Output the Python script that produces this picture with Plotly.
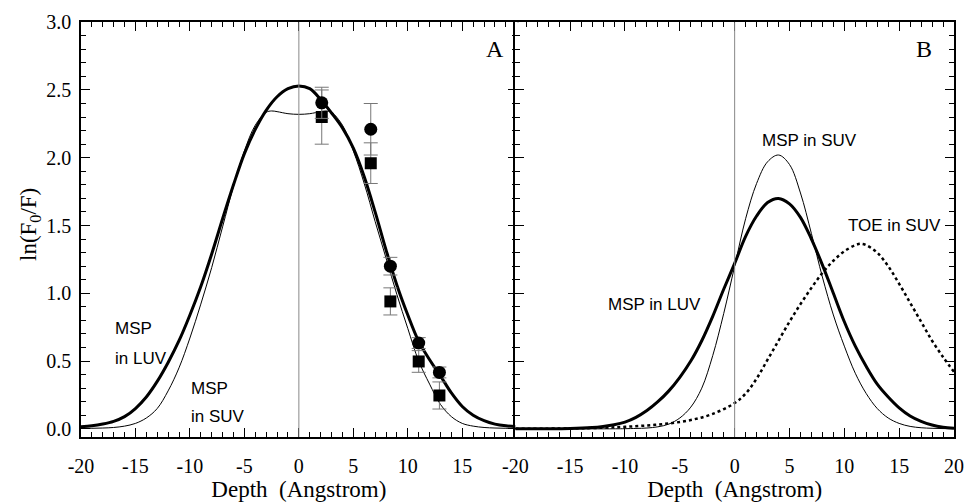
import plotly.graph_objects as go

# ---------------- Panel A data ----------------
a_luv_x = [-20, -19, -18, -17, -16, -15, -14, -13, -12, -11, -10, -9, -8, -7, -6, -5, -4, -3, -2, -1, 0,
           1, 2, 3, 4, 5, 6, 7, 8, 9, 10, 11, 12, 13, 14, 15, 16, 17, 18, 19, 20]
a_luv_y = [0.015, 0.022, 0.035, 0.055, 0.09, 0.15, 0.235, 0.35, 0.49, 0.65, 0.84, 1.05, 1.29, 1.55, 1.80, 2.03, 2.21, 2.35, 2.45, 2.51, 2.53,
           2.51, 2.43, 2.33, 2.22, 2.07, 1.86, 1.60, 1.32, 1.06, 0.84, 0.645, 0.51, 0.39, 0.265, 0.165, 0.10, 0.06, 0.035, 0.022, 0.015]

a_suv_x = [-20, -19, -18, -17, -16, -15, -14, -13, -12, -11, -10, -9, -8, -7, -6, -5, -4, -3, -2.5, -2, -1, 0,
           1, 2, 2.5, 3, 4, 5, 6, 7, 8, 9, 10, 11, 12, 13, 14, 15, 16, 17, 18, 19, 20]
a_suv_y = [0.003, 0.004, 0.006, 0.01, 0.02, 0.04, 0.08, 0.15, 0.28, 0.45, 0.67, 0.92, 1.19, 1.49, 1.79, 2.05, 2.24, 2.335, 2.345, 2.34, 2.325, 2.32,
           2.325, 2.34, 2.345, 2.335, 2.24, 2.05, 1.81, 1.53, 1.26, 0.99, 0.74, 0.50, 0.33, 0.18, 0.09, 0.04, 0.02, 0.01, 0.006, 0.004, 0.003]

pts_x = [2.1, 6.6, 8.4, 11.0, 12.9]
circle_y = [2.405, 2.21, 1.20, 0.633, 0.416]
circle_err = [0.115, 0.19, 0.065, 0.04, 0.04]
square_y = [2.30, 1.96, 0.94, 0.497, 0.246]
square_err = [0.20, 0.15, 0.10, 0.08, 0.10]

# ---------------- Panel B data ----------------
b_luv_x = [-20, -15, -13, -12, -11, -10, -9, -8, -7, -6, -5, -4, -3, -2, -1, 0,
           1, 2, 3, 4, 5, 6, 7, 8, 9, 10, 11, 12, 13, 14, 15, 16, 17, 18, 19, 20]
b_luv_y = [0.0, 0.003, 0.01, 0.018, 0.03, 0.05, 0.085, 0.135, 0.20, 0.28, 0.38, 0.50, 0.65, 0.83, 1.03, 1.22,
           1.42, 1.57, 1.67, 1.70, 1.66, 1.56, 1.40, 1.21, 1.00, 0.79, 0.61, 0.46, 0.33, 0.235, 0.155, 0.095, 0.055, 0.028, 0.012, 0.004]

b_suv_x = [-20, -12, -10, -9, -8, -7, -6, -5, -4, -3, -2, -1, 0,
           1, 2, 3, 4, 5, 6, 7, 8, 9, 10, 11, 12, 13, 14, 15, 16, 17, 18, 19, 20]
b_suv_y = [0.0, 0.0, 0.001, 0.003, 0.006, 0.015, 0.035, 0.08, 0.16, 0.30, 0.54, 0.85, 1.20,
           1.55, 1.81, 1.97, 2.02, 1.95, 1.74, 1.44, 1.12, 0.84, 0.61, 0.41, 0.26, 0.15, 0.08, 0.04, 0.018, 0.008, 0.004, 0.002, 0.001]

b_toe_x = [-20, -15, -12, -10, -8, -6, -4, -2, 0, 1, 2, 3, 4, 5, 6, 7, 8, 9, 10, 11, 11.5, 12, 13, 14, 15, 16, 17, 18, 19, 20]
b_toe_y = [0.0, 0.003, 0.008, 0.015, 0.025, 0.04, 0.065, 0.11, 0.19, 0.26, 0.37, 0.51, 0.65, 0.79, 0.92, 1.04, 1.15, 1.24, 1.31, 1.355, 1.365, 1.355, 1.30, 1.20, 1.07, 0.93, 0.79, 0.65, 0.53, 0.42]

x_ticks_a = [-20, -15, -10, -5, 0, 5, 10, 15]
x_ticks_b = [-20, -15, -10, -5, 0, 5, 10, 15, 20]
y_ticks = [0.0, 0.5, 1.0, 1.5, 2.0, 2.5, 3.0]

SERIF = "Liberation Serif"
SANS = "Liberation Sans"

fig = go.Figure()

# Panel A
fig.add_trace(go.Scatter(x=a_suv_x, y=a_suv_y, mode="lines", line=dict(color="black", width=1, shape="spline", smoothing=1.0),
                         xaxis="x", yaxis="y", showlegend=False))
fig.add_trace(go.Scatter(x=a_luv_x, y=a_luv_y, mode="lines", line=dict(color="black", width=3, shape="spline", smoothing=1.0),
                         xaxis="x", yaxis="y", showlegend=False))
fig.add_trace(go.Scatter(x=pts_x, y=square_y, mode="markers",
                         marker=dict(symbol="square", size=12, color="black"),
                         error_y=dict(type="data", array=square_err, color="#777777", thickness=1, width=7),
                         xaxis="x", yaxis="y", showlegend=False))
fig.add_trace(go.Scatter(x=pts_x, y=circle_y, mode="markers",
                         marker=dict(symbol="circle", size=13, color="black"),
                         error_y=dict(type="data", array=circle_err, color="#777777", thickness=1, width=7),
                         xaxis="x", yaxis="y", showlegend=False))

# Panel B
fig.add_trace(go.Scatter(x=b_toe_x, y=b_toe_y, mode="lines", line=dict(color="black", width=2.5, dash="dot", shape="spline"),
                         xaxis="x2", yaxis="y2", showlegend=False))
fig.add_trace(go.Scatter(x=b_suv_x, y=b_suv_y, mode="lines", line=dict(color="black", width=1, shape="spline"),
                         xaxis="x2", yaxis="y2", showlegend=False))
fig.add_trace(go.Scatter(x=b_luv_x, y=b_luv_y, mode="lines", line=dict(color="black", width=3, shape="spline"),
                         xaxis="x2", yaxis="y2", showlegend=False))

axis_common = dict(showline=True, linecolor="black", linewidth=1.5, mirror="ticks",
                   ticks="inside", ticklen=9, tickwidth=1.2, tickcolor="black",
                   showgrid=False, zeroline=False, automargin=False,
                   tickfont=dict(family=SERIF, size=20, color="black"))

yr = [-0.06, 3.0]
dom_y = [0.133, 0.956]
title_font = dict(family=SERIF, size=23, color="black")

fig.update_layout(
    width=965, height=504,
    margin=dict(l=0, r=0, t=0, b=0),
    paper_bgcolor="white", plot_bgcolor="white",
    xaxis=dict(axis_common, domain=[0.0839, 0.5355], range=[-20, 20],
               tickmode="array", tickvals=x_ticks_a, ticktext=[str(v) for v in x_ticks_a],
               minor=dict(tickmode="linear", tick0=-20, dtick=1, ticks="inside", ticklen=5, tickcolor="black"),
               ticklabelstandoff=10,
               title=dict(text="Depth  (Angstrom)", font=title_font, standoff=4),
               anchor="y"),
    yaxis=dict(axis_common, domain=dom_y, range=yr,
               tickmode="array", tickvals=y_ticks, ticktext=["%.1f" % v for v in y_ticks],
               minor=dict(tickmode="linear", tick0=0, dtick=0.1, ticks="inside", ticklen=5, tickcolor="black"),
               ticklabelstandoff=4,
               anchor="x"),
    xaxis2=dict(axis_common, domain=[0.5340, 0.9886], range=[-20, 20],
                tickmode="array", tickvals=x_ticks_b, ticktext=[str(v) for v in x_ticks_b],
                minor=dict(tickmode="linear", tick0=-20, dtick=1, ticks="inside", ticklen=5, tickcolor="black"),
                ticklabelstandoff=10,
                title=dict(text="Depth  (Angstrom)", font=title_font, standoff=4),
                anchor="y2"),
    yaxis2=dict(axis_common, domain=dom_y, range=yr,
                tickmode="array", tickvals=y_ticks, showticklabels=False,
                minor=dict(tickmode="linear", tick0=0, dtick=0.1, ticks="inside", ticklen=5, tickcolor="black"),
                anchor="x2"),
)

# y-axis title placed as rotated text left of the tick labels
fig.add_annotation(text="ln(F<sub>0</sub>/F)", x=30 / 965, y=(504 - 225) / 504, xref="paper", yref="paper",
                   showarrow=False, textangle=-90, font=title_font, xanchor="center", yanchor="middle")

# zero-depth reference lines
fig.add_shape(type="line", xref="x", yref="y domain", x0=0, x1=0, y0=0, y1=1, line=dict(color="#888888", width=1))
fig.add_shape(type="line", xref="x2", yref="y2 domain", x0=0, x1=0, y0=0, y1=1, line=dict(color="#888888", width=1))

def note(text, x, y, xref, yref, family=SANS, size=17, xanchor="left"):
    fig.add_annotation(text=text, x=x, y=y, xref=xref, yref=yref, showarrow=False,
                       font=dict(family=family, size=size, color="black"), xanchor=xanchor, yanchor="middle")

note("A", 18.0, 2.80, "x", "y", family=SERIF, size=24, xanchor="center")
note("B", 17.3, 2.80, "x2", "y2", family=SERIF, size=24, xanchor="center")
note("MSP", -17.1, 0.74, "x", "y")
note("in LUV", -17.1, 0.52, "x", "y")
note("MSP", -10.1, 0.30, "x", "y")
note("in SUV", -10.1, 0.09, "x", "y")
note("MSP in SUV", 6.8, 2.13, "x2", "y2", xanchor="center")
note("TOE in SUV", 14.6, 1.50, "x2", "y2", xanchor="center")
note("MSP in LUV", -7.3, 0.92, "x2", "y2", xanchor="center")

fig.write_html("out.html", config={"displayModeBar": False},
               post_script="document.body.style.margin='0';document.body.style.overflow='hidden';")
